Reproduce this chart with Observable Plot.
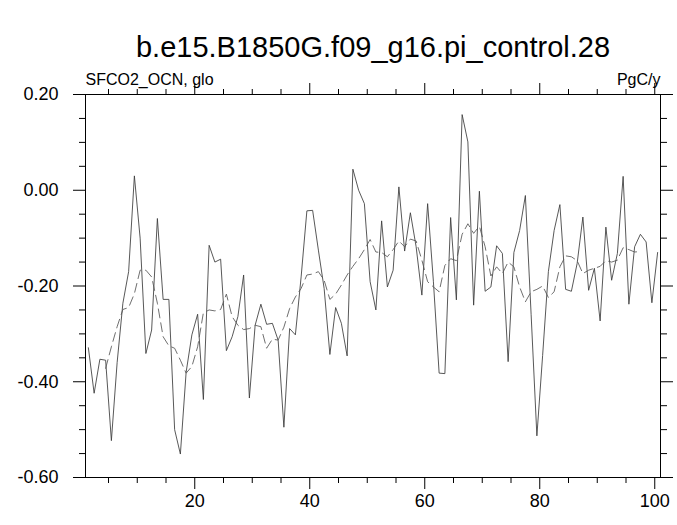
<!DOCTYPE html>
<html>
<head>
<meta charset="utf-8">
<script src="https://cdn.jsdelivr.net/npm/d3@7"></script>
<script src="https://cdn.jsdelivr.net/npm/@observablehq/plot@0.6"></script>
<style>
  html, body { margin: 0; padding: 0; background: #fff; }
  #chart svg { display: block; }
</style>
</head>
<body>
<div id="chart"></div>
<script>
const title = "b.e15.B1850G.f09_g16.pi_control.28";
const leftSub = "SFCO2_OCN, glo";
const rightSub = "PgC/y";

// annual values (mid-year positions)
const flux = [
  -0.329, -0.424, -0.353, -0.355, -0.523, -0.360, -0.236, -0.170, 0.030, -0.100,
  -0.341, -0.292, -0.059, -0.228, -0.228, -0.500, -0.551, -0.380, -0.302, -0.259,
  -0.437, -0.115, -0.150, -0.144, -0.335, -0.306, -0.264, -0.177, -0.434, -0.282,
  -0.238, -0.280, -0.278, -0.313, -0.495, -0.289, -0.302, -0.181, -0.043, -0.042,
  -0.125, -0.205, -0.343, -0.245, -0.278, -0.346, 0.044, 0.000, -0.028, -0.191,
  -0.250, -0.064, -0.202, -0.167, 0.007, -0.127, -0.047, -0.118, -0.219, -0.028,
  -0.190, -0.382, -0.383, -0.057, -0.229, 0.158, 0.101, -0.240, -0.002, -0.211,
  -0.202, -0.116, -0.132, -0.358, -0.130, -0.084, -0.011, -0.260, -0.513, -0.345,
  -0.170, -0.084, -0.030, -0.207, -0.211, -0.153, -0.056, -0.209, -0.163, -0.273,
  -0.077, -0.188, -0.132, 0.029, -0.238, -0.118, -0.092, -0.108, -0.235, -0.130
];

// running mean (dashed)
const smooth = [
  null, null, null, -0.372, -0.327, -0.285, -0.249, -0.245, -0.216, -0.167,
  -0.167, -0.181, -0.236, -0.306, -0.325, -0.330, -0.355, -0.382, -0.368, -0.327,
  -0.256, -0.250, -0.252, -0.249, -0.217, -0.264, -0.282, -0.291, -0.289, -0.282,
  -0.285, -0.330, -0.311, -0.313, -0.286, -0.247, -0.223, -0.205, -0.177, -0.175,
  -0.170, -0.188, -0.228, -0.217, -0.198, -0.177, -0.159, -0.143, -0.124, -0.103,
  -0.129, -0.130, -0.139, -0.124, -0.106, -0.118, -0.102, -0.106, -0.146, -0.191,
  -0.202, -0.212, -0.157, -0.143, -0.147, -0.092, -0.070, -0.090, -0.075, -0.118,
  -0.179, -0.160, -0.174, -0.150, -0.160, -0.202, -0.233, -0.212, -0.207, -0.200,
  -0.224, -0.212, -0.160, -0.137, -0.139, -0.147, -0.174, -0.167, -0.163, -0.159,
  -0.147, -0.150, -0.146, -0.120, -0.124, -0.129, -0.128, null, null, null
];

const xMajor = [20, 40, 60, 80, 100];
const xMinor = [5, 10, 15, 25, 30, 35, 45, 50, 55, 65, 70, 75, 85, 90, 95];
const yMajor = [-0.6, -0.4, -0.2, 0.0, 0.2];
const yMinor = [-0.55, -0.5, -0.45, -0.35, -0.3, -0.25, -0.15, -0.1, -0.05, 0.05, 0.1, 0.15];

const years = flux.map((_, i) => i + 1.5);
const rows = years.map((yr, i) => ({yr, v: flux[i], s: smooth[i]}));

const font = "'Liberation Sans', Arial, Helvetica, sans-serif";
const blank = () => "";

const chart = Plot.plot({
  width: 677,
  height: 525,
  marginLeft: 85,
  marginRight: 17,
  marginTop: 94,
  marginBottom: 48,
  style: {fontFamily: font, background: "#fff", color: "#000"},
  x: {domain: [1, 101]},
  y: {domain: [-0.6, 0.2]},
  marks: [
    Plot.line(rows, {x: "yr", y: "v", stroke: "#3a3a3a", strokeWidth: 0.85}),
    Plot.line(rows, {x: "yr", y: "s", stroke: "#555", strokeWidth: 0.85, strokeDasharray: "9,5"}),
    Plot.frame({stroke: "#000", strokeWidth: 1}),
    Plot.axisX({ticks: xMajor, tickSize: 12, tickPadding: 5, fontSize: 18, label: null, tickFormat: d => String(d)}),
    Plot.axisX({ticks: xMinor, tickSize: 6, label: null, tickFormat: blank}),
    Plot.axisX({anchor: "top", ticks: xMajor, tickSize: 12, label: null, tickFormat: blank}),
    Plot.axisX({anchor: "top", ticks: xMinor, tickSize: 6, label: null, tickFormat: blank}),
    Plot.axisY({ticks: yMajor, tickSize: 12, tickPadding: 15, fontSize: 18, label: null, tickFormat: d => d.toFixed(2)}),
    Plot.axisY({ticks: yMinor, tickSize: 6, label: null, tickFormat: blank}),
    Plot.axisY({anchor: "right", ticks: yMajor, tickSize: 12, label: null, tickFormat: blank}),
    Plot.axisY({anchor: "right", ticks: yMinor, tickSize: 6, label: null, tickFormat: blank}),
    Plot.text([title], {frameAnchor: "top", dy: -38, lineAnchor: "bottom", fontSize: 29, text: d => d}),
    Plot.text([leftSub], {frameAnchor: "top-left", textAnchor: "start", dy: -10, lineAnchor: "bottom", fontSize: 16, text: d => d}),
    Plot.text([rightSub], {frameAnchor: "top-right", textAnchor: "end", dy: -10, lineAnchor: "bottom", fontSize: 16, text: d => d})
  ]
});
document.getElementById("chart").append(chart);
</script>
</body>
</html>
